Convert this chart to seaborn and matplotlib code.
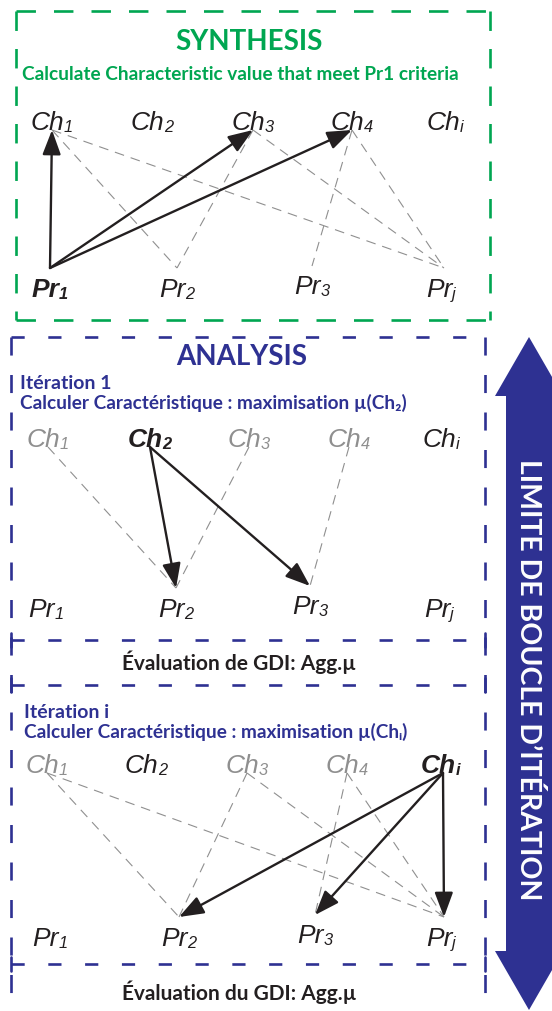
import matplotlib
matplotlib.use("Agg")
import matplotlib.pyplot as plt
import seaborn as sns

# =======================
# 1. Texts and diagram data
# =======================
synth_title = "SYNTHESIS"
synth_sub = "Calculate Characteristic value that meet Pr1 criteria"
analysis_title = "ANALYSIS"
iter_titles = ["Itération 1", "Itération i"]
iter_subs = ["Calculer Caractéristique : maximisation µ(Ch₂)",
             "Calculer Caractéristique : maximisation µ(Chᵢ)"]
eval_texts = ["Évaluation de GDI: Agg.µ", "Évaluation du GDI: Agg.µ"]
loop_text = "LIMITE DE BOUCLE D’ITÉRATION"

ch_subs = ["1", "2", "3", "4", "i"]
pr_subs = ["1", "2", "3", "j"]

# node state per panel: 0 = grey, 1 = black, 2 = bold black
synth_ch_state = [1, 1, 1, 1, 1]
synth_pr_state = [2, 1, 1, 1]
iter1_ch_state = [0, 2, 0, 0, 1]
iter1_pr_state = [1, 1, 1, 1]
iteri_ch_state = [0, 1, 0, 0, 2]
iteri_pr_state = [1, 1, 1, 1]

# dashed links (ch index, pr index)
synth_links = [(0, 1), (0, 3), (2, 1), (2, 3), (3, 2), (3, 3)]
iter1_links = [(0, 1), (2, 1), (3, 2)]
iteri_links = [(0, 1), (0, 3), (2, 1), (2, 3), (3, 2), (3, 3)]

# solid arrows (ch index, pr index)
synth_arrows = [(0, 0), (2, 0), (3, 0)]   # Pr1 -> Ch
iter1_arrows = [(1, 1), (1, 2)]           # Ch2 -> Pr
iteri_arrows = [(4, 1), (4, 2), (4, 3)]   # Chi -> Pr

# =======================
# 2. Layout (pixels)
# =======================
GREEN = "#00a651"
NAVY = "#2e3192"
INK = "#231f20"
GREY = "#8f8f8f"

panels = [
    dict(ch_x=[52, 152, 253, 352, 448], ch_base=130, pr_x=[50, 177, 312, 444], pr_base=297,
         ch_state=synth_ch_state, pr_state=synth_pr_state, links=synth_links,
         arrows=synth_arrows, up=True),
    dict(ch_x=[48, 150, 249, 349, 444], ch_base=447, pr_x=[46, 176, 310, 442], pr_base=617,
         ch_state=iter1_ch_state, pr_state=iter1_pr_state, links=iter1_links,
         arrows=iter1_arrows, up=False),
    dict(ch_x=[47, 146, 247, 347, 443], ch_base=773, pr_x=[50, 179, 315, 444], pr_base=946,
         ch_state=iteri_ch_state, pr_state=iteri_pr_state, links=iteri_links,
         arrows=iteri_arrows, up=False),
]

sns.set_theme(style="white")
plt.rcParams['font.family'] = ['Lato', 'DejaVu Sans']
plt.rcParams['lines.scale_dashes'] = False

fig = plt.figure(figsize=(5.52, 10.12), dpi=100)
ax = fig.add_axes([0, 0, 1, 1])
ax.set_xlim(0, 552)
ax.set_ylim(1012, 0)
ax.axis('off')

LABEL_PT = 19


def node_label(x, base, stem, sub, state):
    color = GREY if state == 0 else INK
    weight = 'bold' if state == 2 else 'normal'
    t = ax.text(x - 5, base, stem, ha='center', va='baseline', fontsize=LABEL_PT,
                style='italic', weight=weight, color=color, family='Liberation Sans')
    ax.annotate(sub, xy=(1, 0), xycoords=t, ha='left', va='bottom',
                fontsize=LABEL_PT * 0.62, style='italic', weight=weight,
                color=color, family='Liberation Sans')


# =======================
# 3. Nodes, links, arrows
# =======================
for p in panels:
    ch_anchor = [(x, p['ch_base'] + 1) for x in p['ch_x']]
    pr_anchor = [(x, p['pr_base'] - 28) for x in p['pr_x']]
    pr_anchor[2] = (pr_anchor[2][0], pr_anchor[2][1] - 2)

    for i, sub in enumerate(ch_subs):
        node_label(p['ch_x'][i], p['ch_base'], "Ch", sub, p['ch_state'][i])
    for j, sub in enumerate(pr_subs):
        dy = -3 if j == 2 else 0
        node_label(p['pr_x'][j], p['pr_base'] + dy, "Pr", sub, p['pr_state'][j])

    for ci, pj in p['links']:
        (x1, y1), (x2, y2) = ch_anchor[ci], pr_anchor[pj]
        ax.plot([x1, x2], [y1, y2], color=GREY, lw=0.8, dashes=(7, 5))

    for ci, pj in p['arrows']:
        if p['up']:
            tail, tip = pr_anchor[pj], ch_anchor[ci]
        else:
            tail, tip = ch_anchor[ci], pr_anchor[pj]
        ax.annotate("", xy=tip, xytext=tail,
                    arrowprops=dict(arrowstyle="-|>,head_length=0.75,head_width=0.28",
                                    color=INK, lw=1.7, shrinkA=0, shrinkB=0,
                                    mutation_scale=20))

# =======================
# 4. Frames
# =======================
g_dash = (14, 13)
ax.plot([16, 490], [12, 12], color=GREEN, lw=1.9, dashes=g_dash)
ax.plot([16, 490], [321, 321], color=GREEN, lw=1.9, dashes=g_dash)
ax.plot([16, 16], [12, 321], color=GREEN, lw=1.9, dashes=g_dash)
ax.plot([490, 490], [12, 321], color=GREEN, lw=1.9, dashes=g_dash)

h_dash = (9.5, 17)
v_dash = (13, 14)
ax.plot([11, 485], [338, 338], color=NAVY, lw=1.9, dashes=h_dash)
ax.plot([11, 11], [338, 1012], color=NAVY, lw=1.9, dashes=v_dash)
ax.plot([485, 485], [338, 1012], color=NAVY, lw=1.9, dashes=v_dash)
for ys in [641, 686, 965]:
    ax.plot([11, 485], [ys, ys], color=NAVY, lw=1.9, dashes=h_dash)
    ax.plot([11, 11], [ys - 7, ys + 7], color=NAVY, lw=1.9)
    ax.plot([485, 485], [ys - 7, ys + 7], color=NAVY, lw=1.9)

# =======================
# 5. Titles
# =======================
ax.text(249, 50, synth_title, ha='center', va='baseline', fontsize=20, weight='bold', color=GREEN)
ax.text(22, 80, synth_sub, ha='left', va='baseline', fontsize=13.7, weight='bold', color=GREEN)
ax.text(242, 365, analysis_title, ha='center', va='baseline', fontsize=20, weight='bold', color=NAVY)
for (x, y1, y2), title, sub in zip([(20, 389, 409), (24, 718, 738)], iter_titles, iter_subs):
    ax.text(x, y1, title, ha='left', va='baseline', fontsize=14, weight='bold', color=NAVY)
    ax.text(x, y2, sub, ha='left', va='baseline', fontsize=13.7, weight='bold', color=NAVY)
for y, txt in zip([670, 1000], eval_texts):
    ax.text(239, y, txt, ha='center', va='baseline', fontsize=15, weight='bold', color=INK)

# =======================
# 6. Iteration loop arrow
# =======================
cx, shaft, head = 529, 23, 34
top, bottom, head_len = 338, 1011, 59
xs = [cx, cx + head, cx + shaft, cx + shaft, cx + head, cx,
      cx - head, cx - shaft, cx - shaft, cx - head]
ys = [top, top + head_len, top + head_len, bottom - head_len, bottom - head_len, bottom,
      bottom - head_len, bottom - head_len, top + head_len, top + head_len]
ax.fill(xs, ys, color=NAVY, lw=0)
ax.text(cx, 680, loop_text, ha='center', va='center', rotation=-90,
        fontsize=20.5, weight='bold', color='white')

plt.savefig("out.png", dpi=100)
